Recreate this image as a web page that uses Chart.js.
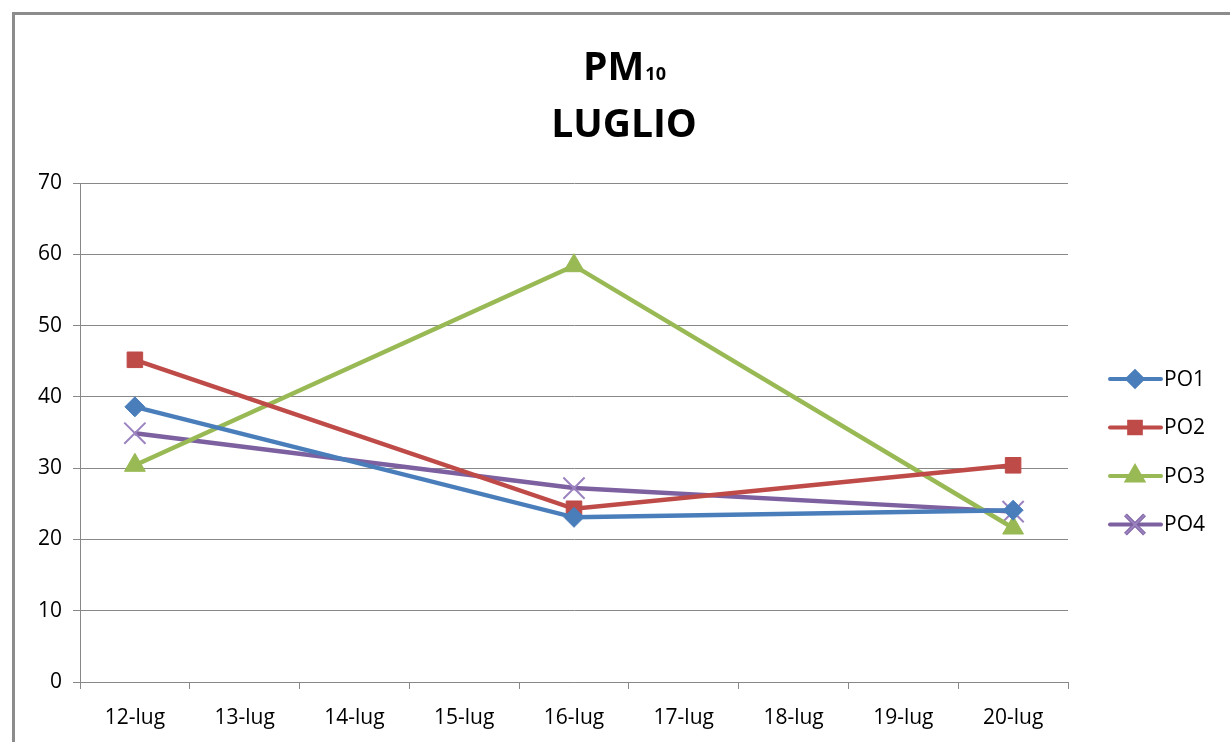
<!DOCTYPE html>
<html>
<head>
<meta charset="utf-8">
<script src="https://cdn.jsdelivr.net/npm/chart.js@4/dist/chart.umd.min.js"></script>
<style>
  body { margin: 0; background: #fff; overflow: hidden; }
  #frame { position: absolute; left: 12px; top: 12px; width: 1230px; height: 760px; border-left: 3px solid #8c8c8c; border-top: 3px solid #8c8c8c; }
  canvas { position: absolute; left: 0; top: 0; }
</style>
</head>
<body>
<div id="frame"></div>
<canvas id="chart" width="1230" height="742"></canvas>
<script>
// categorie (giorni di luglio)
const giorni = ['12-lug', '13-lug', '14-lug', '15-lug', '16-lug', '17-lug', '18-lug', '19-lug', '20-lug'];

// valori PM10 per punto di osservazione (solo 12, 16 e 20)
const po1 = [38.6, null, null, null, 23.1, null, null, null, 24.1];
const po2 = [45.2, null, null, null, 24.3, null, null, null, 30.4];
const po3 = [30.4, null, null, null, 58.4, null, null, null, 21.6];
const po4 = [34.9, null, null, null, 27.2, null, null, null, 23.9];

const yTicks = [0, 10, 20, 30, 40, 50, 60, 70];

const font = 'Open Sans';

// titolo con pedice "10"
const titolo = {
  id: 'titolo',
  afterDraw(chart) {
    const ctx = chart.ctx;
    ctx.save();
    ctx.fillStyle = '#000';
    ctx.textBaseline = 'alphabetic';
    ctx.font = 'bold 39px "' + font + '"';
    const wPM = ctx.measureText('PM').width;
    ctx.font = 'bold 18px "' + font + '"';
    const w10 = ctx.measureText('10').width;
    const x0 = 624 - (wPM + w10) / 2;
    ctx.font = 'bold 39px "' + font + '"';
    ctx.textAlign = 'left';
    ctx.fillText('PM', x0, 80);
    ctx.font = 'bold 18px "' + font + '"';
    ctx.fillText('10', x0 + wPM + 1, 80);
    ctx.font = 'bold 39px "' + font + '"';
    ctx.textAlign = 'center';
    ctx.fillText('LUGLIO', 624, 137);
    ctx.restore();
  }
};

// legenda stile Excel (linea con marcatore al centro)
const legenda = {
  id: 'legenda',
  afterDraw(chart) {
    const ctx = chart.ctx;
    ctx.save();
    chart.data.datasets.forEach((ds, i) => {
      const y = 379 + i * 48.5;
      ctx.strokeStyle = ds.borderColor;
      ctx.lineWidth = 4;
      ctx.lineCap = 'round';
      ctx.beginPath();
      ctx.moveTo(1110, y);
      ctx.lineTo(1161, y);
      ctx.stroke();
      ctx.lineCap = 'butt';
      const scala = ds.pointStyle === 'crossRot' ? 0.9 : 0.75;
      Chart.helpers.drawPoint(ctx, {
        pointStyle: ds.pointStyle,
        radius: ds.pointRadius * scala,
        rotation: 0,
        borderWidth: ds.pointBorderWidth
      }, 1135, y);
      ctx.fillStyle = ds.pointBackgroundColor;
      ctx.strokeStyle = ds.pointBorderColor;
      ctx.lineWidth = ds.pointBorderWidth;
      if (ds.pointStyle === 'crossRot') ctx.stroke(); else { ctx.fill(); ctx.stroke(); }
      ctx.fillStyle = '#000';
      ctx.font = '21px "' + font + '"';
      ctx.textAlign = 'left';
      ctx.textBaseline = 'middle';
      ctx.fillText(ds.label, 1164, y + 1);
    });
    ctx.restore();
  }
};

new Chart(document.getElementById('chart'), {
  type: 'line',
  data: {
    labels: giorni,
    datasets: [
      { label: 'PO1', data: po1, borderColor: '#4a7ebb', pointBackgroundColor: '#4a7ebb', pointBorderColor: '#4a7ebb',
        pointStyle: 'rectRot', pointRadius: 10, pointBorderWidth: 1 },
      { label: 'PO2', data: po2, borderColor: '#be4b48', pointBackgroundColor: '#be4b48', pointBorderColor: '#be4b48',
        pointStyle: 'rect', pointRadius: 11, pointBorderWidth: 1 },
      { label: 'PO3', data: po3, borderColor: '#98b954', pointBackgroundColor: '#98b954', pointBorderColor: '#98b954',
        pointStyle: 'triangle', pointRadius: 12, pointBorderWidth: 1 },
      { label: 'PO4', data: po4, borderColor: '#7d60a0', pointBackgroundColor: '#7d60a0', pointBorderColor: '#9b83c0',
        pointStyle: 'crossRot', pointRadius: 15, pointBorderWidth: 2 }
    ]
  },
  options: {
    responsive: false,
    animation: false,
    spanGaps: true,
    elements: { line: { borderWidth: 4.5, tension: 0 } },
    layout: { padding: { left: 0, top: 183, right: 162, bottom: 0 } },
    plugins: { legend: { display: false }, title: { display: false }, tooltip: { enabled: false } },
    scales: {
      x: {
        offset: true,
        grid: { offset: true, drawOnChartArea: false, color: '#888', tickLength: 7 },
        border: { color: '#888', width: 1 },
        ticks: { color: '#000', font: { family: font, size: 21 }, padding: 16, maxRotation: 0 },
        afterFit(scale) { scale.height = 60; }
      },
      y: {
        min: 0, max: 70,
        afterBuildTicks(scale) { scale.ticks = yTicks.map(v => ({ value: v })); },
        grid: { color: '#888', tickLength: 7 },
        border: { color: '#888', width: 1 },
        ticks: { color: '#000', font: { family: font, size: 21 }, padding: 11 },
        afterFit(scale) { scale.width = 80; }
      }
    }
  },
  plugins: [titolo, legenda]
});
</script>
</body>
</html>
